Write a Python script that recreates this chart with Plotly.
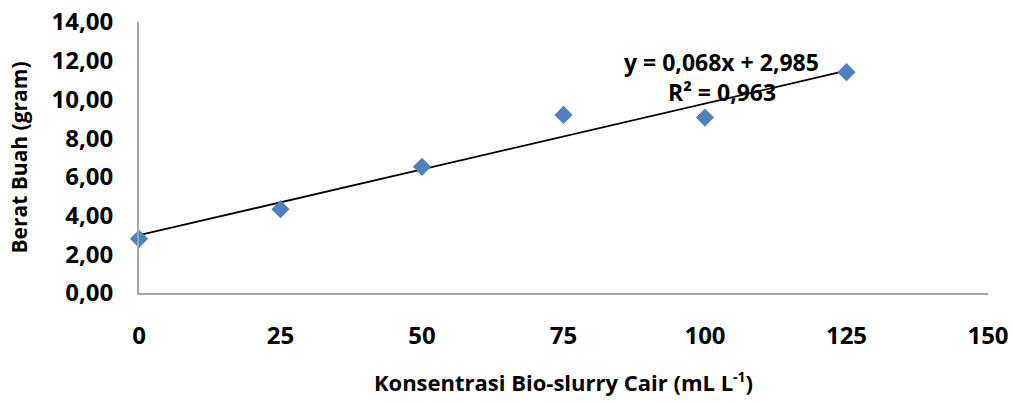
import plotly.graph_objects as go

# Data
konsentrasi = [0, 25, 50, 75, 100, 125]
berat_buah = [2.80, 4.33, 6.52, 9.20, 9.06, 11.41]
slope = 0.068
intercept = 2.985
r_squared = 0.963
x_ticks = [0, 25, 50, 75, 100, 125, 150]
y_ticks = [0, 2, 4, 6, 8, 10, 12, 14]

FONT = "Open Sans"

trend_x = [min(konsentrasi), max(konsentrasi)]
trend_y = [slope * x + intercept for x in trend_x]

fig = go.Figure()
fig.add_trace(go.Scatter(
    x=trend_x, y=trend_y, mode="lines",
    line=dict(color="black", width=1.8),
    showlegend=False, hoverinfo="skip", cliponaxis=False,
))
fig.add_trace(go.Scatter(
    x=konsentrasi, y=berat_buah, mode="markers",
    marker=dict(symbol="diamond", size=14, color="#4F81BD"),
    showlegend=False, cliponaxis=False,
))

def fmt(v, d):
    return f"{v:.{d}f}".replace(".", ",")

fig.add_annotation(
    x=103, y=11.93, xref="x", yref="y",
    text=f"y = {fmt(slope,3)}x + {fmt(intercept,3)}",
    showarrow=False, font=dict(family=FONT, size=23, color="black", weight="bold"),
)
fig.add_annotation(
    x=103, y=10.38, xref="x", yref="y",
    text=f"R² = {fmt(r_squared,3)}",
    showarrow=False, font=dict(family=FONT, size=23, color="black", weight="bold"),
)

fig.update_layout(
    width=1012, height=403,
    margin=dict(l=139, r=24, t=22, b=110, autoexpand=False),
    paper_bgcolor="white", plot_bgcolor="white",
    font=dict(family=FONT, color="black"),
)
fig.update_xaxes(
    range=[0, 150], tickvals=x_ticks, ticktext=[str(v) for v in x_ticks],
    showgrid=False, zeroline=False, showline=True, linecolor="#A6A6A6", linewidth=2,
    ticks="", ticklabelstandoff=20, automargin=False,
    tickfont=dict(family=FONT, size=24, color="black", weight="bold"),
    title=dict(text="Konsentrasi Bio-slurry Cair (mL L<sup><span style='font-size:14px'>-1</span></sup>)",
               font=dict(family=FONT, size=22, color="black", weight="bold"), standoff=26),
)
fig.update_yaxes(
    range=[0, 14], tickvals=y_ticks, ticktext=[fmt(v, 2) for v in y_ticks],
    showgrid=False, zeroline=False, showline=True, linecolor="#A6A6A6", linewidth=2,
    ticks="", ticklabelstandoff=19, automargin=False,
    tickfont=dict(family=FONT, size=24, color="black", weight="bold"),
    title=dict(text="Berat Buah (gram)",
               font=dict(family=FONT, size=21, color="black", weight="bold"), standoff=18),
)

fig.write_html(
    "out.html",
    config={"displayModeBar": False},
    post_script="document.body.style.margin='0';document.body.style.padding='0';",
)
